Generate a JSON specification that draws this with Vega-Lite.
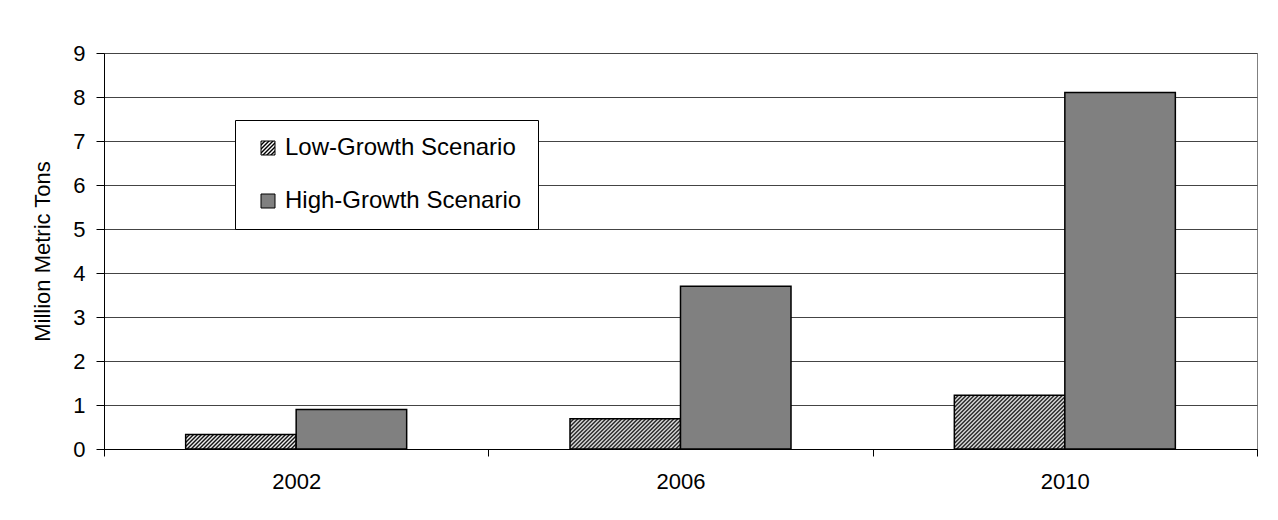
{
 "$schema": "https://vega.github.io/schema/vega-lite/v6.json",
 "autosize": "none",
 "padding": {"left": 104, "top": 53, "right": 21, "bottom": 71},
 "width": 1153,
 "height": 396,
 "background": "white",
 "config": {"font": "Liberation Sans", "view": {"stroke": "#808080", "strokeWidth": 1}},
 "data": {"values": [
  {"year": "2002", "scenario": "Low-Growth Scenario", "value": 0.33},
  {"year": "2002", "scenario": "High-Growth Scenario", "value": 0.9},
  {"year": "2006", "scenario": "Low-Growth Scenario", "value": 0.69},
  {"year": "2006", "scenario": "High-Growth Scenario", "value": 3.7},
  {"year": "2010", "scenario": "Low-Growth Scenario", "value": 1.22},
  {"year": "2010", "scenario": "High-Growth Scenario", "value": 8.1}
 ]},
 "mark": {"type": "bar", "stroke": "#000", "strokeWidth": 1.5},
 "encoding": {
  "x": {"field": "year", "type": "nominal", "scale": {"paddingInner": 0, "paddingOuter": 0},
   "axis": {"title": null, "labelAngle": 0, "tickBand": "extent", "domainColor": "#000", "tickColor": "#000", "tickSize": 7, "labelPadding": 15, "labelFontSize": 22, "labelColor": "#000", "grid": false}},
  "xOffset": {"field": "scenario", "type": "nominal", "sort": ["Low-Growth Scenario", "High-Growth Scenario"], "scale": {"paddingInner": 0, "paddingOuter": 0.739}},
  "y": {"field": "value", "type": "quantitative", "scale": {"domain": [0, 9], "nice": false},
   "axis": {"title": "Million Metric Tons", "values": [0, 1, 2, 3, 4, 5, 6, 7, 8, 9], "grid": true, "gridColor": "#444", "gridWidth": 1, "domainColor": "#000", "tickColor": "#000", "tickSize": 8, "labelPadding": 11, "labelFontSize": 22, "labelColor": "#000", "titleFontSize": 22, "titleFontWeight": "normal", "titleColor": "#000", "titlePadding": 18}},
  "fill": {
   "field": "scenario", "type": "nominal",
   "scale": {"domain": ["Low-Growth Scenario", "High-Growth Scenario"], "range": [
    {"expr": "{gradient: 'linear', x1: 0, y1: 0, x2: 7.14, y2: 7.14, stops: [{offset: 0, color: '#000'}, {offset: 0.01, color: '#fff'}, {offset: 0.02, color: '#000'}, {offset: 0.03, color: '#fff'}, {offset: 0.04, color: '#000'}, {offset: 0.05, color: '#fff'}, {offset: 0.06, color: '#000'}, {offset: 0.07, color: '#fff'}, {offset: 0.08, color: '#000'}, {offset: 0.09, color: '#fff'}, {offset: 0.1, color: '#000'}, {offset: 0.11, color: '#fff'}, {offset: 0.12, color: '#000'}, {offset: 0.13, color: '#fff'}, {offset: 0.14, color: '#000'}, {offset: 0.15, color: '#fff'}, {offset: 0.16, color: '#000'}, {offset: 1, color: '#000'}]}"},
    "#808080"]},
   "legend": {"title": null, "orient": "none", "legendX": 131, "legendY": 67, "padding": 16, "symbolOffset": 5, "symbolType": "square", "symbolSize": 196, "symbolStrokeWidth": 1, "labelFontSize": 24, "labelColor": "#000", "labelOffset": 5, "rowPadding": 29, "strokeColor": "#000", "fillColor": "#fff", "labelLimit": 400},
   "condition": [
    {"test": "datum.year === '2002' && datum.scenario === 'Low-Growth Scenario'", "value": {"gradient": "linear", "x1": 0, "y1": 0, "x2": 1.7793, "y2": 0.2335, "stops": [{"offset":0,"color":"#000"},{"offset":0.01,"color":"#fff"},{"offset":0.02,"color":"#000"},{"offset":0.03,"color":"#fff"},{"offset":0.04,"color":"#000"},{"offset":0.05,"color":"#fff"},{"offset":0.06,"color":"#000"},{"offset":0.07,"color":"#fff"},{"offset":0.08,"color":"#000"},{"offset":0.09,"color":"#fff"},{"offset":0.1,"color":"#000"},{"offset":0.11,"color":"#fff"},{"offset":0.12,"color":"#000"},{"offset":0.13,"color":"#fff"},{"offset":0.14,"color":"#000"},{"offset":0.15,"color":"#fff"},{"offset":0.16,"color":"#000"},{"offset":0.17,"color":"#fff"},{"offset":0.18,"color":"#000"},{"offset":0.19,"color":"#fff"},{"offset":0.2,"color":"#000"},{"offset":0.21,"color":"#fff"},{"offset":0.22,"color":"#000"},{"offset":0.23,"color":"#fff"},{"offset":0.24,"color":"#000"},{"offset":0.25,"color":"#fff"},{"offset":0.26,"color":"#000"},{"offset":0.27,"color":"#fff"},{"offset":0.28,"color":"#000"},{"offset":0.29,"color":"#fff"},{"offset":0.3,"color":"#000"},{"offset":0.31,"color":"#fff"},{"offset":0.32,"color":"#000"},{"offset":0.33,"color":"#fff"},{"offset":0.34,"color":"#000"},{"offset":0.35,"color":"#fff"},{"offset":0.36,"color":"#000"},{"offset":0.37,"color":"#fff"},{"offset":0.38,"color":"#000"},{"offset":0.39,"color":"#fff"},{"offset":0.4,"color":"#000"},{"offset":0.41,"color":"#fff"},{"offset":0.42,"color":"#000"},{"offset":0.43,"color":"#fff"},{"offset":0.44,"color":"#000"},{"offset":0.45,"color":"#fff"},{"offset":0.46,"color":"#000"},{"offset":0.47,"color":"#fff"},{"offset":0.48,"color":"#000"},{"offset":0.49,"color":"#fff"},{"offset":0.5,"color":"#000"},{"offset":0.51,"color":"#fff"},{"offset":0.52,"color":"#000"},{"offset":0.53,"color":"#fff"},{"offset":0.54,"color":"#000"},{"offset":0.55,"color":"#fff"},{"offset":0.56,"color":"#000"},{"offset":0.57,"color":"#fff"},{"offset":0.58,"color":"#000"},{"offset":0.59,"color":"#fff"},{"offset":0.6,"color":"#000"},{"offset":0.61,"color":"#fff"},{"offset":0.62,"color":"#000"},{"offset":0.63,"color":"#fff"},{"offset":0.64,"color":"#000"},{"offset":1,"color":"#000"}]}},
    {"test": "datum.year === '2006' && datum.scenario === 'Low-Growth Scenario'", "value": {"gradient": "linear", "x1": 0, "y1": 0, "x2": 1.6826, "y2": 0.4629, "stops": [{"offset":0,"color":"#000"},{"offset":0.01,"color":"#fff"},{"offset":0.02,"color":"#000"},{"offset":0.03,"color":"#fff"},{"offset":0.04,"color":"#000"},{"offset":0.05,"color":"#fff"},{"offset":0.06,"color":"#000"},{"offset":0.07,"color":"#fff"},{"offset":0.08,"color":"#000"},{"offset":0.09,"color":"#fff"},{"offset":0.1,"color":"#000"},{"offset":0.11,"color":"#fff"},{"offset":0.12,"color":"#000"},{"offset":0.13,"color":"#fff"},{"offset":0.14,"color":"#000"},{"offset":0.15,"color":"#fff"},{"offset":0.16,"color":"#000"},{"offset":0.17,"color":"#fff"},{"offset":0.18,"color":"#000"},{"offset":0.19,"color":"#fff"},{"offset":0.2,"color":"#000"},{"offset":0.21,"color":"#fff"},{"offset":0.22,"color":"#000"},{"offset":0.23,"color":"#fff"},{"offset":0.24,"color":"#000"},{"offset":0.25,"color":"#fff"},{"offset":0.26,"color":"#000"},{"offset":0.27,"color":"#fff"},{"offset":0.28,"color":"#000"},{"offset":0.29,"color":"#fff"},{"offset":0.3,"color":"#000"},{"offset":0.31,"color":"#fff"},{"offset":0.32,"color":"#000"},{"offset":0.33,"color":"#fff"},{"offset":0.34,"color":"#000"},{"offset":0.35,"color":"#fff"},{"offset":0.36,"color":"#000"},{"offset":0.37,"color":"#fff"},{"offset":0.38,"color":"#000"},{"offset":0.39,"color":"#fff"},{"offset":0.4,"color":"#000"},{"offset":0.41,"color":"#fff"},{"offset":0.42,"color":"#000"},{"offset":0.43,"color":"#fff"},{"offset":0.44,"color":"#000"},{"offset":0.45,"color":"#fff"},{"offset":0.46,"color":"#000"},{"offset":0.47,"color":"#fff"},{"offset":0.48,"color":"#000"},{"offset":0.49,"color":"#fff"},{"offset":0.5,"color":"#000"},{"offset":0.51,"color":"#fff"},{"offset":0.52,"color":"#000"},{"offset":0.53,"color":"#fff"},{"offset":0.54,"color":"#000"},{"offset":0.55,"color":"#fff"},{"offset":0.56,"color":"#000"},{"offset":0.57,"color":"#fff"},{"offset":0.58,"color":"#000"},{"offset":0.59,"color":"#fff"},{"offset":0.6,"color":"#000"},{"offset":0.61,"color":"#fff"},{"offset":0.62,"color":"#000"},{"offset":0.63,"color":"#fff"},{"offset":0.64,"color":"#000"},{"offset":0.65,"color":"#fff"},{"offset":0.66,"color":"#000"},{"offset":0.67,"color":"#fff"},{"offset":0.68,"color":"#000"},{"offset":0.69,"color":"#fff"},{"offset":0.7,"color":"#000"},{"offset":0.71,"color":"#fff"},{"offset":0.72,"color":"#000"},{"offset":1,"color":"#000"}]}},
    {"test": "datum.year === '2010' && datum.scenario === 'Low-Growth Scenario'", "value": {"gradient": "linear", "x1": 0, "y1": 0, "x2": 1.4642, "y2": 0.7115, "stops": [{"offset":0,"color":"#000"},{"offset":0.01,"color":"#fff"},{"offset":0.02,"color":"#000"},{"offset":0.03,"color":"#fff"},{"offset":0.04,"color":"#000"},{"offset":0.05,"color":"#fff"},{"offset":0.06,"color":"#000"},{"offset":0.07,"color":"#fff"},{"offset":0.08,"color":"#000"},{"offset":0.09,"color":"#fff"},{"offset":0.1,"color":"#000"},{"offset":0.11,"color":"#fff"},{"offset":0.12,"color":"#000"},{"offset":0.13,"color":"#fff"},{"offset":0.14,"color":"#000"},{"offset":0.15,"color":"#fff"},{"offset":0.16,"color":"#000"},{"offset":0.17,"color":"#fff"},{"offset":0.18,"color":"#000"},{"offset":0.19,"color":"#fff"},{"offset":0.2,"color":"#000"},{"offset":0.21,"color":"#fff"},{"offset":0.22,"color":"#000"},{"offset":0.23,"color":"#fff"},{"offset":0.24,"color":"#000"},{"offset":0.25,"color":"#fff"},{"offset":0.26,"color":"#000"},{"offset":0.27,"color":"#fff"},{"offset":0.28,"color":"#000"},{"offset":0.29,"color":"#fff"},{"offset":0.3,"color":"#000"},{"offset":0.31,"color":"#fff"},{"offset":0.32,"color":"#000"},{"offset":0.33,"color":"#fff"},{"offset":0.34,"color":"#000"},{"offset":0.35,"color":"#fff"},{"offset":0.36,"color":"#000"},{"offset":0.37,"color":"#fff"},{"offset":0.38,"color":"#000"},{"offset":0.39,"color":"#fff"},{"offset":0.4,"color":"#000"},{"offset":0.41,"color":"#fff"},{"offset":0.42,"color":"#000"},{"offset":0.43,"color":"#fff"},{"offset":0.44,"color":"#000"},{"offset":0.45,"color":"#fff"},{"offset":0.46,"color":"#000"},{"offset":0.47,"color":"#fff"},{"offset":0.48,"color":"#000"},{"offset":0.49,"color":"#fff"},{"offset":0.5,"color":"#000"},{"offset":0.51,"color":"#fff"},{"offset":0.52,"color":"#000"},{"offset":0.53,"color":"#fff"},{"offset":0.54,"color":"#000"},{"offset":0.55,"color":"#fff"},{"offset":0.56,"color":"#000"},{"offset":0.57,"color":"#fff"},{"offset":0.58,"color":"#000"},{"offset":0.59,"color":"#fff"},{"offset":0.6,"color":"#000"},{"offset":0.61,"color":"#fff"},{"offset":0.62,"color":"#000"},{"offset":0.63,"color":"#fff"},{"offset":0.64,"color":"#000"},{"offset":0.65,"color":"#fff"},{"offset":0.66,"color":"#000"},{"offset":0.67,"color":"#fff"},{"offset":0.68,"color":"#000"},{"offset":0.69,"color":"#fff"},{"offset":0.7,"color":"#000"},{"offset":0.71,"color":"#fff"},{"offset":0.72,"color":"#000"},{"offset":0.73,"color":"#fff"},{"offset":0.74,"color":"#000"},{"offset":0.75,"color":"#fff"},{"offset":0.76,"color":"#000"},{"offset":0.77,"color":"#fff"},{"offset":0.78,"color":"#000"},{"offset":0.79,"color":"#fff"},{"offset":0.8,"color":"#000"},{"offset":0.81,"color":"#fff"},{"offset":0.82,"color":"#000"},{"offset":0.83,"color":"#fff"},{"offset":0.84,"color":"#000"},{"offset":1,"color":"#000"}]}}
   ]
  }
 }
}
